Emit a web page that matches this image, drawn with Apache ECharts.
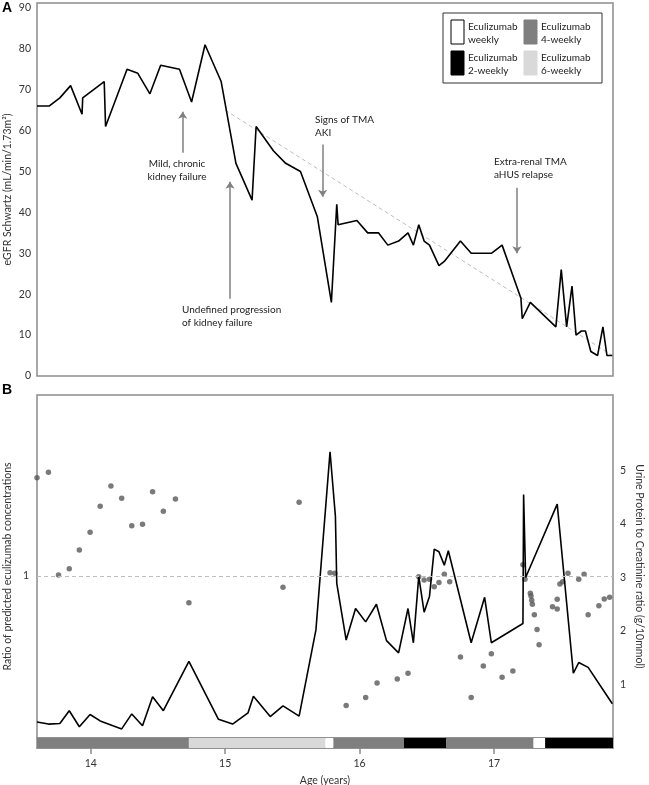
<!DOCTYPE html>
<html>
<head>
<meta charset="utf-8">
<script src="https://cdn.jsdelivr.net/npm/echarts@6/dist/echarts.min.js"></script>
<style>
  html, body { margin: 0; padding: 0; background: #fff; }
  #chart { width: 649px; height: 785px; }
</style>
</head>
<body>
<div id="chart"></div>
<script>
// panel A: eGFR over age
var egfrAge = [13.60, 13.69, 13.77, 13.85, 13.935, 13.94, 14.10, 14.11, 14.27, 14.35, 14.44, 14.52, 14.66, 14.75, 14.85, 14.97,
  15.08, 15.20, 15.23, 15.36, 15.45, 15.56, 15.685, 15.79, 15.83, 15.84, 15.98, 16.06, 16.14, 16.21, 16.29, 16.36, 16.40,
  16.44, 16.48, 16.52, 16.59, 16.63, 16.75, 16.83, 16.98, 17.06, 17.20, 17.21, 17.27, 17.46, 17.50, 17.54, 17.58, 17.61,
  17.65, 17.68, 17.72, 17.77, 17.81, 17.84, 17.88];
var egfrValue = [66, 66, 68, 71, 64, 68, 72, 61, 75, 74, 69, 76, 75, 67, 81, 72,
  52, 43, 61, 55, 52, 50, 39, 18, 42, 37, 38, 35, 35, 32, 33, 35, 32,
  37, 33, 32, 27, 28, 33, 30, 30, 32, 19, 14, 18, 12, 26, 12, 22, 10,
  11, 11, 6, 5, 12, 5, 5];
var egfrTicks = [0, 10, 20, 30, 40, 50, 60, 70, 80, 90];
var trendAge = [15.0, 17.88];
var trendValue = [65, 5];

// panel B: urine protein/creatinine (line) and concentration ratio (dots)
var upcrAge = [13.60, 13.685, 13.77, 13.84, 13.915, 13.995, 14.07, 14.23, 14.305, 14.385, 14.46, 14.54, 14.73, 14.95,
  15.055, 15.17, 15.21, 15.335, 15.43, 15.55, 15.675, 15.78, 15.82, 15.83, 15.90, 15.97, 16.045, 16.125, 16.20,
  16.29, 16.36, 16.40, 16.44, 16.48, 16.52, 16.555, 16.59, 16.63, 16.66, 16.83, 16.93, 16.98, 17.215, 17.22,
  17.235, 17.47, 17.59, 17.63, 17.70, 17.88];
var upcrValue = [0.30, 0.26, 0.27, 0.51, 0.21, 0.44, 0.32, 0.17, 0.45, 0.23, 0.77, 0.51, 1.43, 0.35,
  0.26, 0.47, 0.78, 0.40, 0.60, 0.41, 2.02, 5.35, 4.14, 2.89, 1.83, 2.42, 2.17, 2.50, 1.82,
  1.59, 2.42, 1.78, 3.02, 2.35, 2.65, 3.53, 3.48, 3.23, 3.50, 1.78, 2.63, 1.78, 2.14, 4.55,
  3.00, 4.37, 1.21, 1.41, 1.32, 0.64];
var upcrTicks = [1, 2, 3, 4, 5];
var ratioAge = [13.60, 13.685, 13.76, 13.84, 13.915, 13.995, 14.07, 14.15, 14.23, 14.305, 14.385, 14.46, 14.54, 14.63,
  14.73, 15.43, 15.55, 15.78, 15.815, 15.90, 16.045, 16.13, 16.28, 16.36, 16.44, 16.48, 16.52, 16.555, 16.59,
  16.63, 16.67, 16.75, 16.83, 16.92, 16.98, 17.06, 17.14, 17.215, 17.23, 17.27, 17.275, 17.28, 17.285, 17.30,
  17.32, 17.335, 17.435, 17.47, 17.47, 17.49, 17.51, 17.55, 17.63, 17.67, 17.70, 17.78, 17.82, 17.86];
var ratioValue = [1.607, 1.64, 1.006, 1.045, 1.16, 1.27, 1.43, 1.556, 1.48, 1.31, 1.32, 1.52, 1.40, 1.475,
  0.835, 0.93, 1.455, 1.02, 1.017, 0.20, 0.25, 0.34, 0.364, 0.40, 0.996, 0.975, 0.98, 0.934, 0.96,
  1.01, 0.965, 0.50, 0.25, 0.444, 0.52, 0.375, 0.414, 1.07, 0.98, 0.893, 0.877, 0.85, 0.825, 0.76,
  0.67, 0.576, 0.81, 0.856, 0.796, 0.95, 0.965, 1.017, 0.98, 1.01, 0.76, 0.817, 0.858, 0.868];
var ratioTicks = [1];

// dosing regimen bar
var doseStart = [13.6, 14.73, 15.746, 15.805, 16.33, 16.646, 17.294, 17.38];
var doseEnd = [14.73, 15.746, 15.805, 16.33, 16.646, 17.294, 17.38, 17.885];
var doseRegimen = ['4-weekly', '6-weekly', 'weekly', '4-weekly', '2-weekly', '4-weekly', 'weekly', '2-weekly'];
var regimenColor = { 'weekly': '#ffffff', '2-weekly': '#000000', '4-weekly': '#7f7f7f', '6-weekly': '#d9d9d9' };

var ageTicks = [14, 15, 16, 17];

var FONT = 'Lato';
var BORDER = '#8c8c8c';

function pairs(xs, ys) {
  return xs.map(function (x, i) { return [x, ys[i]]; });
}

var chart = echarts.init(document.getElementById('chart'), null, { renderer: 'canvas' });

function arrow(x, y1, y2) {
  return [{ coord: [x, y1] }, { coord: [x, y2] }];
}

var legendItems = [
  { x: 451, y: 20, fill: '#ffffff', text: 'Eculizumab\nweekly' },
  { x: 524, y: 20, fill: '#7f7f7f', text: 'Eculizumab\n4-weekly' },
  { x: 451, y: 51, fill: '#000000', text: 'Eculizumab\n2-weekly' },
  { x: 524, y: 51, fill: '#d9d9d9', text: 'Eculizumab\n6-weekly' }
];
var graphics = [
  { type: 'text', left: 2, top: 1, style: { text: 'A', font: 'bold 14px Arial', fill: '#000' } },
  { type: 'text', left: 2, top: 383, style: { text: 'B', font: 'bold 14px Arial', fill: '#000' } },
  { type: 'rect', shape: { x: 443, y: 13, width: 159, height: 70 }, style: { fill: '#fff', stroke: '#333', lineWidth: 1 } }
];
legendItems.forEach(function (it) {
  graphics.push({ type: 'rect', shape: { x: it.x, y: it.y, width: 13, height: 24 },
    style: { fill: it.fill, stroke: it.fill === '#ffffff' ? '#000' : it.fill, lineWidth: 1 } });
  graphics.push({ type: 'text', x: it.x + 17, y: it.y + 1,
    style: { text: it.text, font: '10px ' + FONT, fill: '#222', lineHeight: 12.5 } });
});
var notes = [
  { x: 177, y: 158, align: 'center', text: 'Mild, chronic\nkidney failure' },
  { x: 182, y: 304, align: 'left', text: 'Undefined progression\nof kidney failure' },
  { x: 315, y: 114, align: 'left', text: 'Signs of TMA\nAKI' },
  { x: 494, y: 156, align: 'left', text: 'Extra-renal TMA\naHUS relapse' }
];
notes.forEach(function (n) {
  graphics.push({ type: 'text', x: n.x, y: n.y,
    style: { text: n.text, font: '10px ' + FONT, fill: '#222', lineHeight: 12.5, textAlign: n.align } });
});

var gridBase = { left: 37, right: 36, show: true, borderColor: BORDER, borderWidth: 1.5,
  containLabel: false, outerBoundsMode: 'none' };

chart.setOption({
  animation: false,
  textStyle: { fontFamily: FONT },
  grid: [
    Object.assign({ top: 3, height: 373 }, gridBase),
    Object.assign({ top: 395, height: 343 }, gridBase),
    Object.assign({ top: 738, height: 10 }, gridBase)
  ],
  xAxis: [
    { type: 'value', gridIndex: 0, min: 13.6, max: 17.885, axisLine: { show: false }, axisTick: { show: false },
      axisLabel: { show: false }, splitLine: { show: false } },
    { type: 'value', gridIndex: 1, min: 13.6, max: 17.885, axisLine: { show: false }, axisTick: { show: false },
      axisLabel: { show: false }, splitLine: { show: false } },
    { type: 'value', gridIndex: 2, min: 13.6, max: 17.885,
      axisLine: { show: true, lineStyle: { color: BORDER, width: 1.5 } },
      axisTick: { show: true, length: 6, customValues: ageTicks, lineStyle: { color: BORDER, width: 1.5 } },
      axisLabel: { customValues: ageTicks, color: '#333', fontSize: 10.5, margin: 10 },
      splitLine: { show: false },
      name: 'Age (years)', nameLocation: 'middle', nameGap: 27, nameMoveOverlap: false,
      nameTextStyle: { color: '#333', fontSize: 10.5 } }
  ],
  yAxis: [
    { type: 'value', gridIndex: 0, min: 0, max: 91.2,
      axisLine: { show: false }, axisTick: { show: false }, splitLine: { show: false },
      axisLabel: { customValues: egfrTicks, color: '#333', fontSize: 10.5, margin: 6 },
      name: 'eGFR Schwartz (mL/min/1.73m²)', nameLocation: 'middle', nameGap: 24, nameMoveOverlap: false,
      nameTextStyle: { color: '#333', fontSize: 10.5 } },
    { type: 'value', gridIndex: 1, min: 0, max: 2.117,
      axisLine: { show: false }, axisTick: { show: false }, splitLine: { show: false },
      axisLabel: { customValues: ratioTicks, color: '#333', fontSize: 10.5, margin: 8 },
      name: 'Ratio of predicted eculizumab concentrations', nameLocation: 'middle', nameGap: 24, nameMoveOverlap: false,
      nameTextStyle: { color: '#333', fontSize: 10.5 } },
    { type: 'value', gridIndex: 1, position: 'right', min: 0, max: 6.41,
      axisLine: { show: false }, axisTick: { show: false }, splitLine: { show: false },
      axisLabel: { customValues: upcrTicks, color: '#333', fontSize: 10.5, margin: 7 },
      name: 'Urine Protein to Creatinine ratio (g/10mmol)', nameLocation: 'middle', nameGap: 21, nameRotate: -90,
      nameMoveOverlap: false,
      nameTextStyle: { color: '#333', fontSize: 10.5 } },
    { type: 'value', gridIndex: 2, min: 0, max: 1, show: false }
  ],
  series: [
    { name: 'eGFR', type: 'line', xAxisIndex: 0, yAxisIndex: 0, data: pairs(egfrAge, egfrValue),
      symbol: 'none', lineStyle: { color: '#000', width: 1.6 },
      markLine: {
        silent: true, symbol: ['none', 'arrow'], symbolSize: 7,
        label: { show: false },
        lineStyle: { color: '#808080', width: 1.5, type: 'solid' },
        data: [arrow(14.684, 54.6, 64.6), arrow(15.036, 18.9, 47.5), arrow(15.725, 56.6, 43.8), arrow(17.17, 46, 30)]
      } },
    { name: 'trend', type: 'line', xAxisIndex: 0, yAxisIndex: 0, data: pairs(trendAge, trendValue),
      symbol: 'none', lineStyle: { color: '#bdbdbd', width: 1, type: [4, 3] }, z: 1 },
    { name: 'UPCR', type: 'line', xAxisIndex: 1, yAxisIndex: 2, data: pairs(upcrAge, upcrValue),
      symbol: 'none', lineStyle: { color: '#000', width: 1.6 } },
    { name: 'ratio', type: 'scatter', xAxisIndex: 1, yAxisIndex: 1, data: pairs(ratioAge, ratioValue),
      symbolSize: 5.5, itemStyle: { color: '#595959' },
      markLine: {
        silent: true, symbol: 'none', label: { show: false },
        lineStyle: { color: '#bdbdbd', width: 1, type: [4, 3] },
        data: [{ yAxis: 1 }]
      } },
    { name: 'regimen', type: 'custom', xAxisIndex: 2, yAxisIndex: 3,
      data: doseStart.map(function (s, i) { return [s, doseEnd[i]]; }),
      encode: { x: [0, 1] },
      renderItem: function (params, api) {
        var p0 = api.coord([api.value(0), 1]);
        var p1 = api.coord([api.value(1), 0]);
        return { type: 'rect', shape: { x: p0[0], y: p0[1], width: p1[0] - p0[0], height: p1[1] - p0[1] },
          style: { fill: regimenColor[doseRegimen[params.dataIndex]] } };
      } }
  ],
  graphic: graphics
});
</script>
</body>
</html>
